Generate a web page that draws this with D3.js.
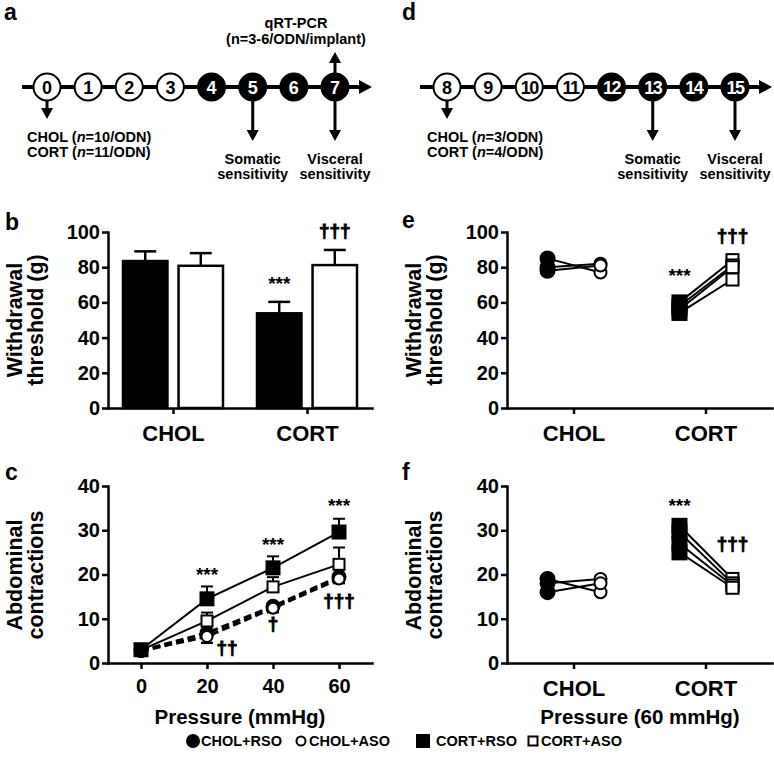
<!DOCTYPE html>
<html><head><meta charset="utf-8">
<script src="https://cdn.jsdelivr.net/npm/d3@7"></script>
<style>
body{margin:0;background:#fff}
text{font-family:'Liberation Sans',Arial,Helvetica,sans-serif;font-weight:bold;fill:#000}
</style>
</head><body>
<svg id="fig" width="774" height="757"></svg>
<script>
// ---------------- DATA ----------------
const daysA = [0,1,2,3,4,5,6,7];
const daysD = [8,9,10,11,12,13,14,15];
const groups = ["CHOL","CORT"];
const odns = ["RSO","ASO"];
// panel b: mean withdrawal threshold (g) and SEM
const barMeanRSO = [83.5, 53.8];
const barMeanASO = [80.8, 81.2];
const barSemRSO  = [5.5, 6.5];
const barSemASO  = [7.2, 8.6];
// panel c: abdominal contractions vs pressure
const pressures   = [0,20,40,60];
const cholRSO     = [2.8, 6.8, 12.8, 19.5];
const cholRSOsem  = [0.5, 2.2, 1.2, 1.2];
const cholASO     = [2.7, 6.0, 12.4, 19.0];
const cholASOsem  = [0.5, 1.5, 1.0, 1.0];
const cortRSO     = [3.0, 14.5, 21.5, 29.6];
const cortRSOsem  = [0.6, 2.8, 2.6, 3.0];
const cortASO     = [2.9, 9.5, 17.2, 22.3];
const cortASOsem  = [0.5, 1.9, 2.2, 3.8];
// panel e: individual withdrawal thresholds
const eCholRSO = [85, 80, 78],      eCholASO = [77, 82, 81];
const eCortRSO = [60, 58, 56, 54],  eCortASO = [84, 81, 80, 73];
// panel f: individual contractions at 60 mmHg
const fCholRSO = [19, 18, 16],      fCholASO = [16, 19, 18];
const fCortRSO = [31, 29.5, 27, 25], fCortASO = [19, 18, 17.5, 17];
// ticks
const yTicksB = [0,20,40,60,80,100];
const yTicksC = [0,10,20,30,40];
const legendLabels = ["CHOL+RSO","CHOL+ASO","CORT+RSO","CORT+ASO"];
// significance marks
const starsB = [["CORT","RSO",67,"***"]];
const daggB  = [["CORT","ASO",97,"†††"]];
const starsC = [[20,18.6],[40,25.3],[60,34.2]];
const daggC  = [[20,2.0,"††"],[40,7.5,"†"],[60,12.7,"†††"]];
const starsE = [["CORT","RSO",71.6,"***"]];
const daggE  = [["CORT","ASO",94.3,"†††"]];
const starsF = [["CORT","RSO",34.2,"***"]];
const daggF  = [["CORT","ASO",25.6,"†††"]];

// ---------------- DRAW ----------------
const svg = d3.select("#fig");
svg.append("rect").attr("width",774).attr("height",757).attr("fill","#fff");

function panelLabel(t,x,y){ svg.append("text").attr("x",x).attr("y",y).attr("font-size",23).text(t); }

// ---- timelines ----
function timeline(days, x0, x1, lineStart, tip, extras){
  const g = svg.append("g");
  const x = d3.scaleLinear().domain([0, days.length-1]).range([x0, x1]);
  const ly = 87;
  g.append("line").attr("x1",lineStart).attr("x2",tip-8).attr("y1",ly).attr("y2",ly)
   .attr("stroke","#000").attr("stroke-width",4);
  g.append("path").attr("d",`M${tip},${ly} L${tip-13},${ly-7} L${tip-13},${ly+7} Z`).attr("fill","#000");
  const arrow = (cx, yA, yB) => {
    const dir = yB > yA ? 1 : -1;
    g.append("line").attr("x1",cx).attr("x2",cx).attr("y1",yA).attr("y2",yB - dir*8)
     .attr("stroke","#000").attr("stroke-width",3);
    g.append("path").attr("d",`M${cx},${yB} L${cx-6},${yB-dir*11} L${cx+6},${yB-dir*11} Z`).attr("fill","#000");
  };
  extras(g, x, arrow);
  days.forEach((d,i)=>{
    const filled = i >= 4;
    g.append("circle").attr("cx",x(i)).attr("cy",ly).attr("r",13.5)
      .attr("fill", filled ? "#000" : "#fff").attr("stroke","#000").attr("stroke-width",2);
    g.append("text").attr("x",x(i)).attr("y",ly+6.5).attr("text-anchor","middle")
      .attr("font-size",18).attr("letter-spacing", d>=10 ? -1.5 : 0)
      .style("fill", filled ? "#fff" : "#000").text(d);
  });
  return x;
}
function nLabel(g, x, y, grp, n){
  const t = g.append("text").attr("x",x).attr("y",y).attr("font-size",14.5);
  t.append("tspan").text(grp+" (");
  t.append("tspan").attr("font-style","italic").text("n");
  t.append("tspan").text("="+n+"/ODN)");
}
function center2(g, x, y1, s1, y2, s2){
  g.append("text").attr("x",x).attr("y",y1).attr("text-anchor","middle").attr("font-size",14.5).text(s1);
  g.append("text").attr("x",x).attr("y",y2).attr("text-anchor","middle").attr("font-size",14.5).text(s2);
}

timeline(daysA, 47, 335, 22, 372, (g,x,arrow)=>{
  arrow(x(0), 100, 119);
  arrow(x(5), 100, 141);
  arrow(x(7), 100, 141);
  arrow(x(7), 74, 52);
  nLabel(g, 27, 142, "CHOL", 10);
  nLabel(g, 27, 157, "CORT", 11);
  center2(g, x(5), 164, "Somatic", 179, "sensitivity");
  center2(g, x(7), 164, "Visceral", 179, "sensitivity");
  center2(g, 296, 28, "qRT-PCR", 44, "(n=3-6/ODN/implant)");
});
timeline(daysD, 447, 735, 420, 772, (g,x,arrow)=>{
  arrow(x(0), 100, 119);
  arrow(x(5), 100, 141);
  arrow(x(7), 100, 141);
  nLabel(g, 427, 142, "CHOL", 3);
  nLabel(g, 427, 157, "CORT", 4);
  center2(g, x(5), 164, "Somatic", 179, "sensitivity");
  center2(g, x(7), 164, "Visceral", 179, "sensitivity");
});
panelLabel("a",4,20); panelLabel("d",402,20);

// ---- shared helpers ----
const FS = 20;
function styleAxis(ax){
  ax.selectAll("path,line").attr("stroke","#000").attr("stroke-width",2.5);
  ax.select(".domain").attr("stroke-linecap","square");
  ax.selectAll("text").attr("font-family","'Liberation Sans',Arial,sans-serif").attr("font-weight","bold");
}
function yAxis(xPos, y, ticks){
  const ax = svg.append("g").attr("transform",`translate(${xPos},0)`)
    .call(d3.axisLeft(y).tickValues(ticks).tickSize(6).tickPadding(2).tickSizeOuter(0));
  styleAxis(ax); ax.selectAll("text").attr("font-size",FS);
  return ax;
}
function xAxisCat(yPos, x){
  const ax = svg.append("g").attr("transform",`translate(0,${yPos})`)
    .call(d3.axisBottom(x).tickSize(6).tickPadding(11).tickSizeOuter(0));
  styleAxis(ax); ax.selectAll("text").attr("font-size",22);
  return ax;
}
function yTitle(axisX, yc, l1, l2){
  svg.append("text").attr("transform",`translate(${axisX-86},${yc}) rotate(-90)`)
    .attr("text-anchor","middle").attr("font-size",21.5).text(l1);
  svg.append("text").attr("transform",`translate(${axisX-65},${yc}) rotate(-90)`)
    .attr("text-anchor","middle").attr("font-size",21.5).text(l2);
}
function mark(x, y, t, fs, bold){
  const el = svg.append("text").attr("x",x).attr("y",y).attr("text-anchor","middle").attr("font-size",fs).text(t);
  if(bold) el.attr("stroke","#000").attr("stroke-width",0.9);
}
function marker(g, shape, filled, cx, cy, size){
  if(shape==="circle"){
    g.append("circle").attr("cx",cx).attr("cy",cy).attr("r", filled ? size/2 : size/2-1)
      .attr("fill", filled?"#000":"#fff").attr("stroke","#000").attr("stroke-width",2);
  } else {
    const s = filled ? size : size-2;
    g.append("rect").attr("x",cx-s/2).attr("y",cy-s/2).attr("width",s).attr("height",s)
      .attr("fill", filled?"#000":"#fff").attr("stroke","#000").attr("stroke-width",2);
  }
}

// ---- panel b ----
const yB = d3.scaleLinear().domain([0,100]).range([408,232]);
const xB = d3.scalePoint().domain(groups).range([108,372]).padding(0.485);
const subB = d3.scaleBand().domain(odns).range([-50,50]).paddingInner(0.2);
const gb = svg.append("g");
groups.forEach((grp,i)=>{
  [[ "RSO", barMeanRSO[i], barSemRSO[i], "#000"],["ASO", barMeanASO[i], barSemASO[i], "#fff"]].forEach(([o,m,s,f])=>{
    const x0 = xB(grp)+subB(o), w = subB.bandwidth(), cx = x0+w/2;
    gb.append("line").attr("x1",cx).attr("x2",cx).attr("y1",yB(m)).attr("y2",yB(m+s)).attr("stroke","#000").attr("stroke-width",2.5);
    gb.append("line").attr("x1",cx-11).attr("x2",cx+11).attr("y1",yB(m+s)).attr("y2",yB(m+s)).attr("stroke","#000").attr("stroke-width",2.5);
    gb.append("rect").attr("x",x0).attr("y",yB(m)).attr("width",w).attr("height",yB(0)-yB(m))
      .attr("fill",f).attr("stroke","#000").attr("stroke-width",2.5);
  });
});
yAxis(108, yB, yTicksB);
xAxisCat(408, xB);
yTitle(108, 320, "Withdrawal", "threshold (g)");
starsB.forEach(([g,o,v,t])=>mark(xB(g)+subB(o)+subB.bandwidth()/2, yB(v), t, 19));
daggB.forEach(([g,o,v,t])=>mark(xB(g)+subB(o)+subB.bandwidth()/2, yB(v), t, 19, true));
panelLabel("b",5,230);

// ---- panel c ----
const yC = d3.scaleLinear().domain([0,40]).range([663,486]);
const xC = d3.scaleLinear().domain([-10,70]).range([108,372]);
const gc = svg.append("g");
const seriesC = [
  {v:cholRSO, s:cholRSOsem, shape:"circle", filled:true,  dash:true,  dir:-1},
  {v:cholASO, s:cholASOsem, shape:"circle", filled:false, dash:true,  dir:-1},
  {v:cortASO, s:cortASOsem, shape:"square", filled:false, dash:false, dir:1},
  {v:cortRSO, s:cortRSOsem, shape:"square", filled:true,  dash:false, dir:1}
];
const lineGen = d3.line().x(d=>xC(d[0])).y(d=>yC(d[1]));
seriesC.forEach(sr=>{
  gc.append("path").attr("d", lineGen(pressures.map((p,i)=>[p,sr.v[i]])))
    .attr("fill","none").attr("stroke","#000").attr("stroke-width", sr.dash?3:2)
    .attr("stroke-dasharray", sr.dash ? "8,4" : null);
});
seriesC.forEach(sr=>{
  pressures.forEach((p,i)=>{
    const e = sr.v[i] + sr.dir*sr.s[i];
    gc.append("line").attr("x1",xC(p)).attr("x2",xC(p)).attr("y1",yC(sr.v[i])).attr("y2",yC(e)).attr("stroke","#000").attr("stroke-width",2);
    gc.append("line").attr("x1",xC(p)-6).attr("x2",xC(p)+6).attr("y1",yC(e)).attr("y2",yC(e)).attr("stroke","#000").attr("stroke-width",2);
  });
});
seriesC.forEach(sr=>{
  pressures.forEach((p,i)=> marker(gc, sr.shape, sr.filled, xC(p), yC(sr.v[i]), 13));
});
yAxis(108, yC, yTicksC);
{
  const ax = svg.append("g").attr("transform","translate(0,663)")
    .call(d3.axisBottom(xC).tickValues(pressures).tickSize(6).tickPadding(10).tickSizeOuter(0));
  styleAxis(ax); ax.selectAll("text").attr("font-size",FS);
}
yTitle(108, 575, "Abdominal", "contractions");
starsC.forEach(([p,v])=>mark(xC(p), yC(v), "***", 19));
daggC.forEach(([p,v,t])=>mark(xC(p) + (p===20?20:0), yC(v), t, 19, true));
svg.append("text").attr("x",240).attr("y",724).attr("text-anchor","middle").attr("font-size",20.5).text("Pressure (mmHg)");
panelLabel("c",5,480);

// ---- panel e / f ----
const xE = d3.scalePoint().domain(groups).range([507,772]).padding(0.504);
const subE = {RSO:-26, ASO:27};
function pairPanel(y, cholR, cholA, cortR, cortA, msize){
  const g = svg.append("g");
  const sets = [["CHOL",cholR,cholA,"circle"],["CORT",cortR,cortA,"square"]];
  sets.forEach(([grp,r,a])=>{
    r.forEach((v,i)=>{
      g.append("line").attr("x1",xE(grp)+subE.RSO).attr("x2",xE(grp)+subE.ASO)
        .attr("y1",y(v)).attr("y2",y(a[i])).attr("stroke","#000").attr("stroke-width",2);
    });
  });
  sets.forEach(([grp,r,a,shape])=>{
    r.forEach(v=>marker(g, shape, true, xE(grp)+subE.RSO, y(v), msize));
    a.forEach(v=>marker(g, shape, false, xE(grp)+subE.ASO, y(v), msize));
  });
}
pairPanel(yB, eCholRSO, eCholASO, eCortRSO, eCortASO, 14);
yAxis(507, yB, yTicksB);
xAxisCat(408, xE);
yTitle(507, 320, "Withdrawal", "threshold (g)");
starsE.forEach(([g,o,v,t])=>mark(xE(g)+subE[o], yB(v), t, 19));
daggE.forEach(([g,o,v,t])=>mark(xE(g)+subE[o], yB(v), t, 19, true));
panelLabel("e",402,228);

pairPanel(yC, fCholRSO, fCholASO, fCortRSO, fCortASO, 14);
yAxis(507, yC, yTicksC);
xAxisCat(663, xE);
yTitle(507, 575, "Abdominal", "contractions");
starsF.forEach(([g,o,v,t])=>mark(xE(g)+subE[o], yC(v), t, 19));
daggF.forEach(([g,o,v,t])=>mark(xE(g)+subE[o], yC(v), t, 19, true));
svg.append("text").attr("x",640).attr("y",724).attr("text-anchor","middle").attr("font-size",20.5).text("Pressure (60 mmHg)");
panelLabel("f",402,480);

// ---- legend ----
const lg = svg.append("g");
const legX = [193, 301, 423, 533];
const legShape = [["circle",true],["circle",false],["square",true],["square",false]];
legendLabels.forEach((lab,i)=>{
  marker(lg, legShape[i][0], legShape[i][1], legX[i], 741, i===1||i===3 ? 11 : 12);
  lg.append("text").attr("x",legX[i]+ (i===2?13:8)).attr("y",746).attr("font-size",14.5).text(lab);
});
</script>
</body></html>
